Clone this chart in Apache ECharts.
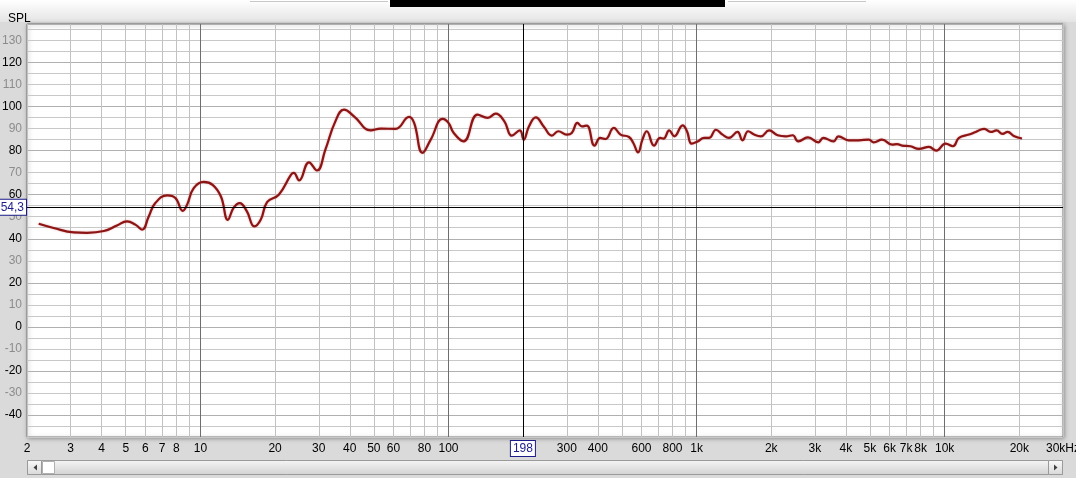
<!DOCTYPE html>
<html><head><meta charset="utf-8">
<script src="https://cdn.jsdelivr.net/npm/echarts@6/dist/echarts.min.js"></script>
<style>html,body{margin:0;padding:0;background:#dadada}#c{width:1076px;height:478px}</style>
</head><body><div id="c"></div>
<script>
// ---- data ----
const freqHz = [2.23,2.56,3.09,3.49,4.08,4.61,5.06,5.47,5.82,6.19,6.58,7.35,7.93,8.49,8.84,9.4,10.3,11.2,12.1,12.9,13.6,14.4,15.4,16.5,17.5,18.6,20.7,23.2,23.8,25.0,27.4,29.5,31.9,35.0,37.9,41.6,48.6,53.3,61.2,69.4,72.7,78.6,84.8,94.8,100,105,115,131,144,155,168,180,194,201,211,225,242,261,277,300,314,331,345,361,388,409,429,464,494,534,556,581,605,630,674,713,736,776,813,879,915,955,1010,1073,1125,1197,1273,1352,1462,1532,1614,1706,1816,1962,2122,2292,2440,2570,2812,3094,3242,3564,3732,4100,4502,4946,5178,5594,6140,6432,6734,7280,7874,8646,9250,10090,10804,11422,12540,13340,14430,15350,16190,17120,17940,19090,20500];
const splDb = [46.8,44.9,42.9,42.7,43.5,46.0,47.9,46.4,44.1,50.1,56.2,59.7,58.5,52.7,55.5,63.0,65.8,64.5,59.2,48.6,54.0,56.2,52.4,45.6,48.6,56.7,60.0,69.1,69.9,66.5,74.7,71.0,80.5,93.3,98.6,95.6,89.2,90.0,89.9,95.3,92.6,79.0,85.0,94.4,92.6,88.0,84.2,96.4,94.9,96.8,93.3,86.8,89.2,85.0,91.0,95.1,91.0,86.8,88.8,87.3,88.0,92.6,91.0,91.4,82.3,85.8,85.3,90.3,87.3,86.2,83.5,79.2,85.0,88.8,82.3,85.8,85.5,89.2,86.5,91.5,88.8,83.2,84.2,85.8,85.8,89.5,87.3,85.8,88.5,84.7,88.8,87.3,86.5,89.2,87.0,86.5,87.0,84.2,86.0,83.8,85.8,84.2,86.5,84.7,84.7,85.0,83.8,85.0,82.7,83.0,82.3,82.0,80.8,81.7,80.0,83.2,82.0,85.8,87.3,88.5,89.9,88.5,89.2,87.6,88.5,86.5,85.5];
const xLabelFreqs = [2,3,4,5,6,7,8,10,20,30,40,50,60,80,100,300,400,600,800,1000,2000,3000,4000,5000,6000,7000,8000,10000,20000,30000];
const decadeFreqs = [10,100,1000,10000];
const freqMin = 2, freqMax = 30000;
const yMin = -50, yMax = 137.5, yStep = 5;
const cursorFreq = 198, cursorSpl = 54.3;

// grid line frequencies 1..9 x 10^k
const gridFreqs = [];
for (let k = 0; k <= 4; k++) for (let m = 1; m <= 9; m++) {
  const f = m * Math.pow(10, k);
  if (f >= freqMin && f <= freqMax) gridFreqs.push(f);
}
const lg = v => Math.log10(v);
const font = '"Liberation Sans", Arial, sans-serif';

function fmtFreq(v) {
  const f = Math.round(Math.pow(10, v));
  if (f === 30000) return '30kHz';
  if (f >= 1000) return (f / 1000) + 'k';
  return String(f);
}

const chart = echarts.init(document.getElementById('c'), null, {renderer: 'canvas'});
const boxLabel = {
  show: true, color: '#1c1c8a', backgroundColor: '#fff', borderColor: '#1c1c8a',
  borderWidth: 1, padding: [2, 2, 1, 2], fontSize: 12, fontFamily: font
};
chart.setOption({
  animation: false,
  backgroundColor: '#dadada',
  title: {text: 'SPL', left: 3, top: 8, textStyle: {fontSize: 12, fontWeight: 'normal', color: '#000', fontFamily: font}},
  grid: {left: 27, right: 13, top: 24, bottom: 41, show: true, backgroundColor: '#fff',
         outerBoundsMode: 'none', containLabel: false,
         borderColor: '#7a7a7a', borderWidth: 1, shadowColor: 'rgba(0,0,0,0.35)', shadowBlur: 4, shadowOffsetX: 1, shadowOffsetY: 1},
  xAxis: [{
    type: 'value', min: lg(freqMin), max: lg(freqMax),
    axisLine: {show: false},
    axisTick: {show: false, customValues: gridFreqs.map(lg)},
    splitLine: {show: true, lineStyle: {color: '#c2c2c2', width: 1}},
    axisLabel: {customValues: xLabelFreqs.map(lg), formatter: fmtFreq, color: '#000', fontSize: 12, fontFamily: font, margin: 6}
  }, {
    type: 'value', min: lg(freqMin), max: lg(freqMax), position: 'bottom',
    axisLine: {show: false},
    axisTick: {show: false, customValues: decadeFreqs.map(lg)},
    axisLabel: {show: false},
    splitLine: {show: true, lineStyle: {color: '#6e6e6e', width: 1}}
  }],
  yAxis: {
    type: 'value', min: yMin, max: yMax, interval: yStep,
    axisLine: {show: false}, axisTick: {show: false},
    splitLine: {show: true, lineStyle: {color: ['#c8c8c8', '#c8c8c8', '#b0b0b0', '#c8c8c8']}},
    axisLabel: {
      margin: 5, fontSize: 12, fontFamily: font,
      formatter: v => {
        if (v % 10 !== 0 || v < -40 || v > 130) return '';
        return (v % 20 === 0 ? '{b|' : '{g|') + v + '}';
      },
      rich: {b: {color: '#000', fontSize: 12, fontFamily: font}, g: {color: '#8c8c8c', fontSize: 12, fontFamily: font}}
    }
  },
  series: [{
    type: 'line', xAxisIndex: 0,
    data: freqHz.map((f, i) => [lg(f), splDb[i]]),
    showSymbol: false, smooth: 0.45,
    lineStyle: {color: '#8c1414', width: 2.2, shadowColor: 'rgba(200,90,90,0.55)', shadowBlur: 2},
    markLine: {
      silent: true, symbol: ['none', 'none'], animation: false,
      lineStyle: {color: '#000', width: 1, type: 'solid'},
      data: [
        {yAxis: cursorSpl, label: Object.assign({}, boxLabel, {position: 'start', distance: 1, formatter: String(cursorSpl).replace('.', ',')})},
        {xAxis: lg(cursorFreq), label: Object.assign({}, boxLabel, {position: 'start', distance: 4, formatter: String(cursorFreq)})}
      ]
    }
  }],
  graphic: [
    {type: 'rect', z: -1, shape: {x: 0, y: 0, width: 1076, height: 22},
     style: {fill: new echarts.graphic.LinearGradient(0, 0, 0, 1, [{offset: 0, color: '#ffffff'}, {offset: 1, color: '#e4e4e4'}])}},
    {type: 'rect', shape: {x: 390, y: 0, width: 335, height: 7}, style: {fill: '#000'}},
    {type: 'line', shape: {x1: 250, y1: 1.5, x2: 388, y2: 1.5}, style: {stroke: '#c8c8c8', lineWidth: 1}},
    {type: 'line', shape: {x1: 728, y1: 1.5, x2: 866, y2: 1.5}, style: {stroke: '#c8c8c8', lineWidth: 1}},
    // scrollbar
    {type: 'rect', shape: {x: 27.5, y: 460.5, width: 1035, height: 14},
     style: {fill: new echarts.graphic.LinearGradient(0, 0, 0, 1, [{offset: 0, color: '#f6f6f6'}, {offset: 1, color: '#d2d2d2'}]), stroke: '#9a9a9a', lineWidth: 1}},
    {type: 'rect', shape: {x: 27.5, y: 460.5, width: 14, height: 14},
     style: {fill: new echarts.graphic.LinearGradient(0, 0, 0, 1, [{offset: 0, color: '#fafafa'}, {offset: 1, color: '#d8d8d8'}]), stroke: '#9a9a9a', lineWidth: 1}},
    {type: 'polygon', shape: {points: [[37, 464.5], [37, 470.5], [33.5, 467.5]]}, style: {fill: '#404040'}},
    {type: 'rect', shape: {x: 42.5, y: 461.5, width: 12, height: 12}, style: {fill: '#fff', stroke: '#b0b0b0', lineWidth: 1}},
    {type: 'rect', shape: {x: 1048.5, y: 460.5, width: 14, height: 14},
     style: {fill: new echarts.graphic.LinearGradient(0, 0, 0, 1, [{offset: 0, color: '#fafafa'}, {offset: 1, color: '#d8d8d8'}]), stroke: '#9a9a9a', lineWidth: 1}},
    {type: 'polygon', shape: {points: [[1054, 464.5], [1054, 470.5], [1057.5, 467.5]]}, style: {fill: '#404040'}}
  ]
});
</script>
</body></html>
